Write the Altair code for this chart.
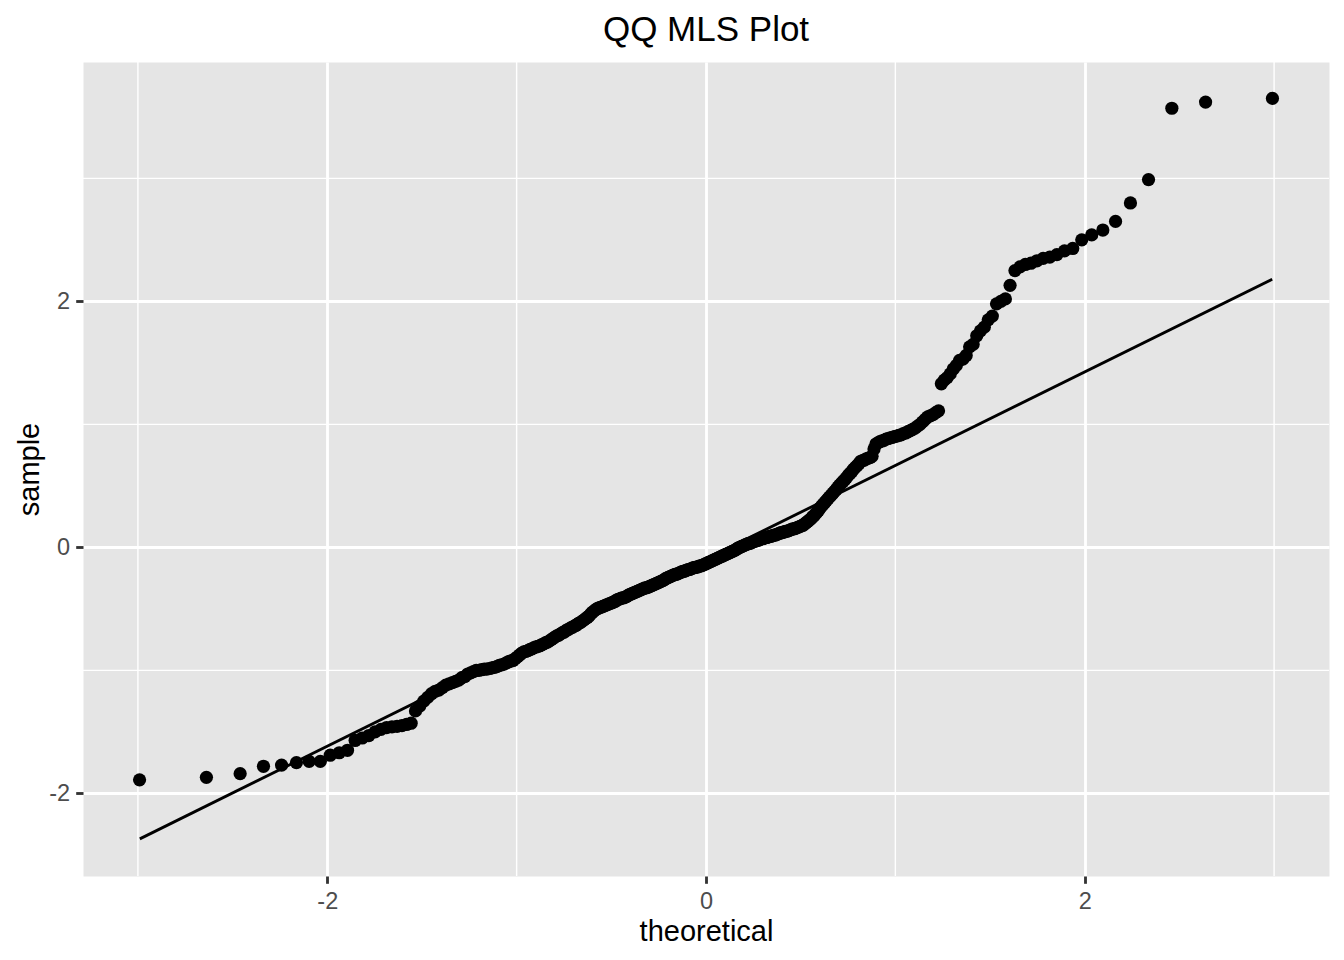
import altair as alt
import pandas as pd

# Sorted sample values (360 points)
sample = [
    -1.89, -1.87, -1.84, -1.78, -1.77, -1.75, -1.74, -1.74, -1.69, -1.67, -1.65, -1.57,
    -1.55, -1.53, -1.50, -1.48, -1.465, -1.46, -1.455, -1.45, -1.44, -1.43, -1.33,
    -1.29, -1.25, -1.22, -1.19, -1.17, -1.16, -1.14, -1.12, -1.11, -1.10, -1.09, -1.08,
    -1.06, -1.05, -1.03, -1.02, -1.01,
    -1.00, -1.00, -0.995, -0.99, -0.99, -0.985, -0.98, -0.975, -0.97, -0.96, -0.955,
    -0.95, -0.94, -0.93, -0.925, -0.92,
    -0.905, -0.89, -0.875, -0.86, -0.85, -0.845, -0.84, -0.83, -0.825, -0.815, -0.81,
    -0.805, -0.80, -0.79, -0.785, -0.775, -0.77,
    -0.76, -0.75, -0.74, -0.73, -0.72, -0.715, -0.705, -0.695, -0.69, -0.68, -0.67,
    -0.665, -0.655, -0.65, -0.64, -0.635, -0.625, -0.615, -0.61, -0.60, -0.59, -0.58,
    -0.57, -0.56, -0.545, -0.53, -0.52,
    -0.51, -0.50, -0.495, -0.49, -0.485, -0.48, -0.475, -0.47, -0.465, -0.46, -0.455,
    -0.45, -0.445, -0.44, -0.43, -0.425, -0.42, -0.415, -0.41, -0.41, -0.405, -0.40,
    -0.39, -0.385, -0.38, -0.375, -0.37, -0.365, -0.36, -0.355, -0.35,
    -0.345, -0.34, -0.335, -0.33, -0.33, -0.325, -0.32, -0.315, -0.31, -0.305, -0.30,
    -0.295, -0.29, -0.285, -0.28, -0.275, -0.27, -0.265, -0.255, -0.25, -0.245, -0.24,
    -0.235, -0.23, -0.225, -0.22, -0.22, -0.215, -0.21, -0.205, -0.20, -0.195, -0.195,
    -0.19, -0.185, -0.18, -0.18, -0.175, -0.17, -0.165, -0.165, -0.16, -0.16, -0.155,
    -0.15, -0.15,
    -0.145, -0.14, -0.135, -0.13, -0.125, -0.12, -0.115, -0.11, -0.105, -0.10, -0.095,
    -0.09, -0.085, -0.08, -0.075, -0.07, -0.065, -0.06, -0.055, -0.05, -0.045, -0.04,
    -0.035, -0.03, -0.025, -0.02, -0.01, -0.005, 0.00,
    0.005, 0.01, 0.015, 0.02, 0.025, 0.03, 0.03, 0.035, 0.04, 0.045, 0.05, 0.055, 0.055,
    0.06, 0.065, 0.07, 0.07, 0.075, 0.08, 0.08, 0.085, 0.09, 0.09, 0.095, 0.10, 0.10,
    0.105, 0.11, 0.115, 0.12, 0.12, 0.125, 0.13, 0.13, 0.135, 0.14, 0.145, 0.15, 0.15,
    0.155, 0.16, 0.165, 0.17, 0.175, 0.18, 0.19, 0.20,
    0.21, 0.22, 0.23, 0.245, 0.255, 0.27, 0.285, 0.30, 0.32, 0.335, 0.35, 0.365, 0.38,
    0.395, 0.41, 0.425, 0.44, 0.455, 0.47, 0.49, 0.505, 0.52, 0.535, 0.55, 0.565, 0.585,
    0.60, 0.615, 0.635, 0.65, 0.665, 0.68, 0.70, 0.705, 0.71, 0.72, 0.725, 0.73, 0.74,
    0.80, 0.84, 0.85, 0.86, 0.865, 0.87, 0.88, 0.885, 0.89, 0.895, 0.90, 0.905, 0.91,
    0.915, 0.925, 0.93, 0.94, 0.95, 0.96, 0.97, 0.985, 1.00, 1.02, 1.04, 1.06, 1.07,
    1.08, 1.095, 1.11,
    1.33, 1.36, 1.38, 1.41, 1.45, 1.48, 1.52, 1.53, 1.56, 1.63, 1.65, 1.72, 1.76, 1.79,
    1.85, 1.88, 1.98, 2.00, 2.02, 2.13, 2.25, 2.28, 2.30, 2.31, 2.33, 2.35, 2.36, 2.38,
    2.41, 2.43, 2.50, 2.54, 2.58, 2.65, 2.80, 2.99, 3.57, 3.62, 3.65,
]

# Reference line end points
line_theoretical = [-2.99, 2.99]
line_sample = [-2.37, 2.18]

# Axis breaks
major_x = [-2, 0, 2]
major_y = [-2, 0, 2]
minor_x = [-3, -1, 1, 3]
minor_y = [-1, 1, 3]

title_text = ["QQ MLS Plot"]

FONT = "Liberation Sans"
LW = 2.84

xscale = alt.Scale(domain=[-3.29, 3.29], nice=False, zero=False)
yscale = alt.Scale(domain=[-2.672, 3.946], nice=False, zero=False)

xaxis = alt.Axis(
    values=major_x, labelExpr="'' + datum.value", title="theoretical",
    titleX=623, titleY=64, titleBaseline="alphabetic", titleAlign="center",
)
yaxis = alt.Axis(
    values=major_y, labelExpr="'' + datum.value", title="sample",
    titleX=-45, titleY=407, titleAngle=270, titleBaseline="alphabetic",
    titleAlign="center",
)

minor_v = alt.Chart(pd.DataFrame({"mx": minor_x})).mark_rule(
    color="white", strokeWidth=LW / 2
).encode(x=alt.X("mx:Q", scale=xscale, axis=xaxis))

minor_h = alt.Chart(pd.DataFrame({"my": minor_y})).mark_rule(
    color="white", strokeWidth=LW / 2
).encode(y=alt.Y("my:Q", scale=yscale, axis=yaxis))

points = alt.Chart(pd.DataFrame({"sample": sample})).transform_window(
    rank="row_number()", sort=[alt.SortField("sample", order="ascending")]
).transform_joinaggregate(
    n="count()"
).transform_calculate(
    theoretical="quantileNormal((datum.rank - 0.5) / datum.n)"
).mark_circle(size=175, color="black", opacity=1).encode(
    x=alt.X("theoretical:Q", scale=xscale, axis=xaxis),
    y=alt.Y("sample:Q", scale=yscale, axis=yaxis),
)

qqline = alt.Chart(
    pd.DataFrame({"theoretical": line_theoretical, "sample": line_sample})
).mark_line(color="black", strokeWidth=LW).encode(
    x=alt.X("theoretical:Q", scale=xscale, axis=xaxis),
    y=alt.Y("sample:Q", scale=yscale, axis=yaxis),
)

title = alt.Chart(pd.DataFrame({"t": title_text})).mark_text(
    font=FONT, fontSize=35, color="black", align="center", baseline="alphabetic"
).encode(text="t:N", x=alt.value(623), y=alt.value(-21))

chart = alt.layer(minor_v, minor_h, points, qqline, title).properties(
    width=1246,
    height=814,
    autosize=alt.AutoSizeParams(type="none"),
    padding={"left": 75, "top": 54, "right": 7, "bottom": 76},
    background="white",
).configure_view(
    fill="#E5E5E5", stroke="transparent"
).configure_axis(
    grid=True, gridColor="white", gridWidth=LW, gridOpacity=1,
    domain=False, tickColor="#333333", tickWidth=LW, tickSize=7.3,
    labelFont=FONT, labelFontSize=23.5, labelColor="#4D4D4D",
    titleFont=FONT, titleFontSize=29, titleColor="black", titleFontWeight="normal",
    labelPadding=6,
)

chart.save("out.html", embed_options={"renderer": "svg", "actions": False})
